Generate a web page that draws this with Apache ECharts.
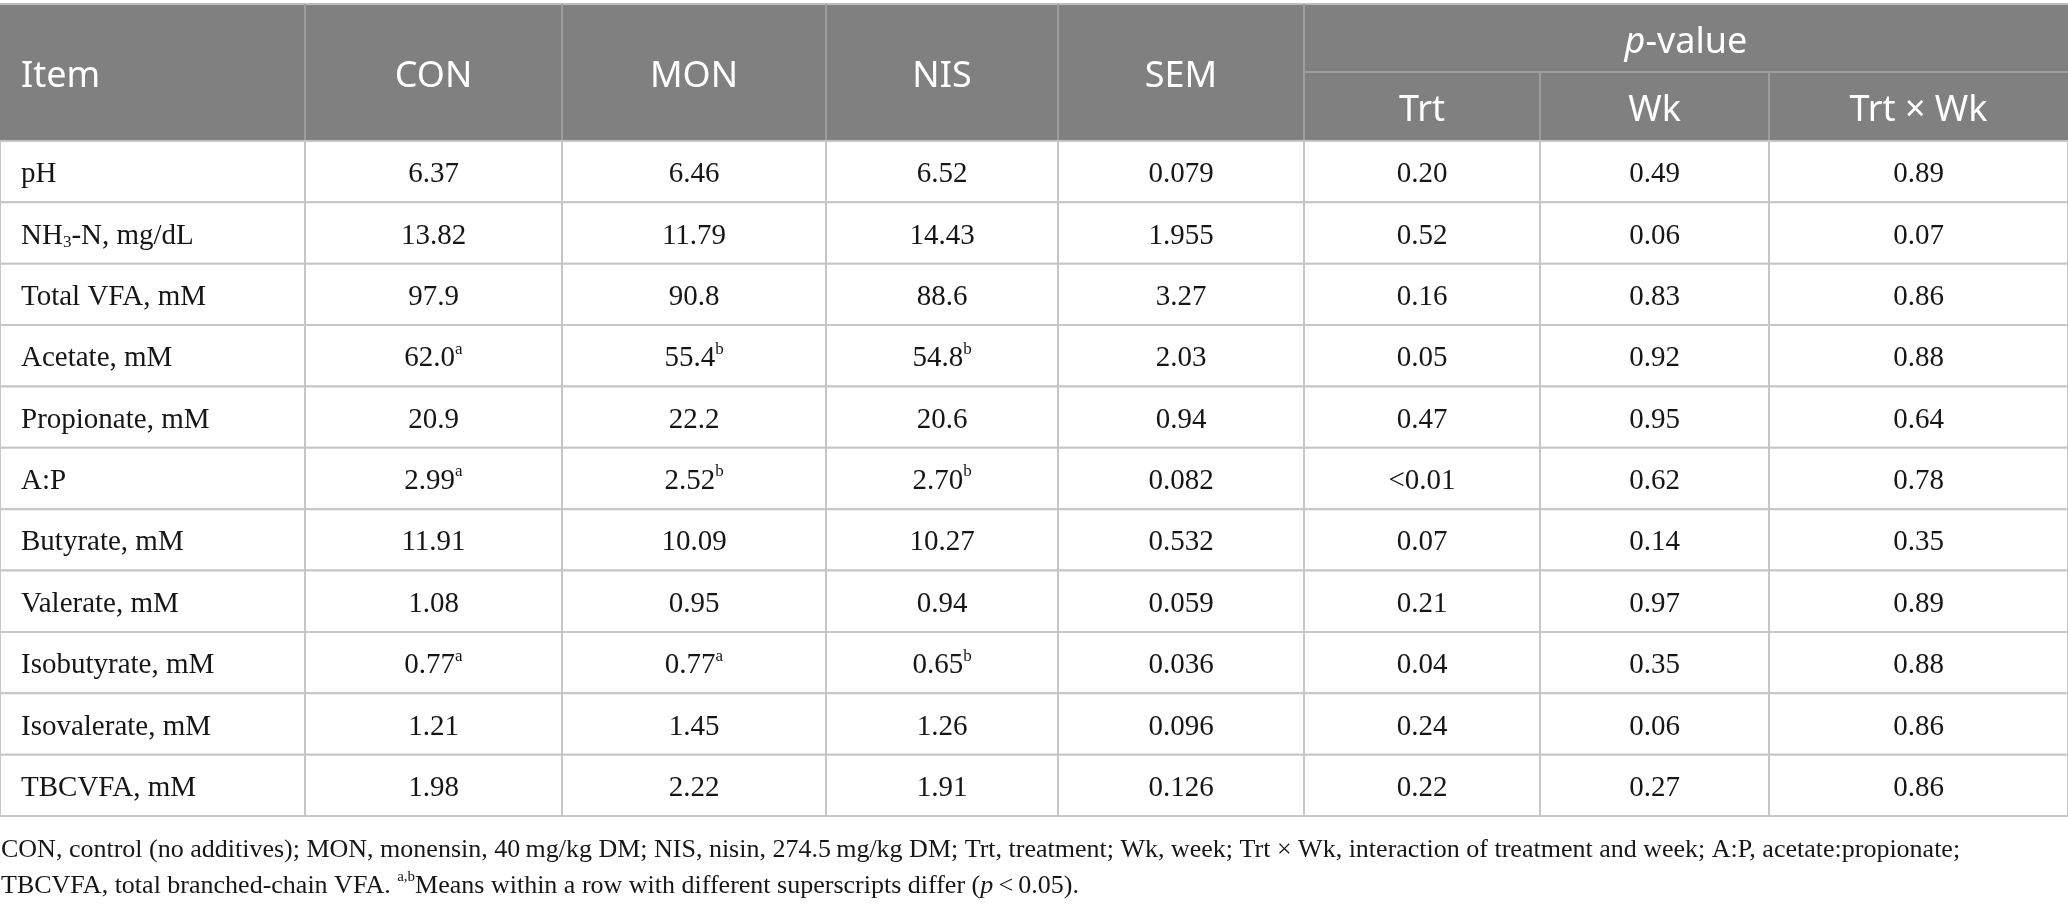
<!DOCTYPE html>
<html>
<head>
    <meta charset="utf-8">
    <title>Rumen fermentation table</title>
    <script src="https://cdn.jsdelivr.net/npm/echarts@6/dist/echarts.min.js"></script>
    <style>
        html, body { margin: 0; padding: 0; background: #fff; }
        #main { width: 2068px; height: 906px; }
    </style>
</head>
<body>
    <div id="main"></div>

    <script>
    // table content
    const columns = ['Item', 'CON', 'MON', 'NIS', 'SEM', 'Trt', 'Wk', 'Trt × Wk'];
    const items = ['pH', 'NH{sub|3}-N, mg/dL', 'Total VFA, mM', 'Acetate, mM', 'Propionate, mM', 'A:P',
        'Butyrate, mM', 'Valerate, mM', 'Isobutyrate, mM', 'Isovalerate, mM', 'TBCVFA, mM'];
    const con    = ['6.37', '13.82', '97.9', '62.0', '20.9', '2.99', '11.91', '1.08', '0.77', '1.21', '1.98'];
    const conSup = ['', '', '', 'a', '', 'a', '', '', 'a', '', ''];
    const mon    = ['6.46', '11.79', '90.8', '55.4', '22.2', '2.52', '10.09', '0.95', '0.77', '1.45', '2.22'];
    const monSup = ['', '', '', 'b', '', 'b', '', '', 'a', '', ''];
    const nis    = ['6.52', '14.43', '88.6', '54.8', '20.6', '2.70', '10.27', '0.94', '0.65', '1.26', '1.91'];
    const nisSup = ['', '', '', 'b', '', 'b', '', '', 'b', '', ''];
    const sem    = ['0.079', '1.955', '3.27', '2.03', '0.94', '0.082', '0.532', '0.059', '0.036', '0.096', '0.126'];
    const pTrt   = ['0.20', '0.52', '0.16', '0.05', '0.47', '<0.01', '0.07', '0.21', '0.04', '0.24', '0.22'];
    const pWk    = ['0.49', '0.06', '0.83', '0.92', '0.95', '0.62', '0.14', '0.97', '0.35', '0.06', '0.27'];
    const pInt   = ['0.89', '0.07', '0.86', '0.88', '0.64', '0.78', '0.35', '0.89', '0.88', '0.86', '0.86'];
    const footLines = [
        'CON, control (no additives); MON, monensin, 40\u2009mg/kg DM; NIS, nisin, 274.5\u2009mg/kg DM; Trt, treatment; Wk, week; Trt × Wk, interaction of treatment and week; A:P, acetate:propionate;',
        'TBCVFA, total branched-chain VFA. {sup|a,b}Means within a row with different superscripts differ ({i|p}\u2009<\u20090.05).'
    ];

    // layout
    const colEdges = [0, 305, 562, 826, 1058, 1304, 1540, 1769, 2068];
    const tableTop = 4, headMid = 72, headBottom = 141, tableBottom = 816;
    const headGrey = '#808080', headLine = '#9d9d9d', bodyLine = '#c6c6c6', ink = '#161616';
    const serif = '"Liberation Serif", "Times New Roman", serif';
    const sans = '"Noto Sans", "Open Sans", sans-serif';

    function cellText(c, r) {
        const sup = (v, s) => s ? v + '{sup|' + s + '}' : v;
        switch (c) {
            case 0: return items[r];
            case 1: return sup(con[r], conSup[r]);
            case 2: return sup(mon[r], monSup[r]);
            case 3: return sup(nis[r], nisSup[r]);
            case 4: return sem[r];
            case 5: return pTrt[r];
            case 6: return pWk[r];
            default: return pInt[r];
        }
    }

    const cells = [];
    for (let r = 0; r < items.length; r++) {
        for (let c = 0; c < columns.length; c++) cells.push([c, r]);
    }

    const richBody = {
        sup: { fontSize: 17, fontFamily: serif, color: ink, verticalAlign: 'top', lineHeight: 36 },
        sub: { fontSize: 17, fontFamily: serif, color: ink, verticalAlign: 'bottom', lineHeight: 30 }
    };

    // header graphics
    const header = [];
    header.push({ type: 'rect', shape: { x: 0, y: tableTop, width: 2068, height: headBottom - tableTop },
        style: { fill: headGrey }, silent: true });
    header.push({ type: 'line', shape: { x1: 0, y1: tableTop, x2: 2068, y2: tableTop },
        style: { stroke: '#bdbdbd', lineWidth: 2 } });
    for (let c = 1; c < columns.length; c++) {
        const inP = c >= 6;
        header.push({ type: 'line', shape: { x1: colEdges[c], y1: inP ? headMid : tableTop, x2: colEdges[c], y2: headBottom },
            style: { stroke: headLine, lineWidth: 2 } });
    }
    header.push({ type: 'line', shape: { x1: colEdges[5], y1: headMid, x2: 2068, y2: headMid },
        style: { stroke: headLine, lineWidth: 2 } });
    columns.forEach(function (name, c) {
        const lower = c >= 5;
        header.push({
            type: 'text',
            x: c === 0 ? 21 : (colEdges[c] + colEdges[c + 1]) / 2,
            y: lower ? (headMid + headBottom) / 2 + 4 : (tableTop + headBottom) / 2 + 4,
            style: { text: name, fill: '#fff', font: '36px ' + sans,
                align: c === 0 ? 'left' : 'center', verticalAlign: 'middle' }
        });
    });
    header.push({
        type: 'text',
        x: (colEdges[5] + colEdges[8]) / 2,
        y: (tableTop + headMid) / 2 + 5,
        style: { text: '{i|p}-value', fill: '#fff', font: '36px ' + sans, align: 'center', verticalAlign: 'middle',
            rich: { i: { fontStyle: 'italic', fontSize: 36, fontFamily: sans, color: '#fff' } } }
    });

    // footnote
    footLines.forEach(function (line, i) {
        header.push({
            type: 'text', x: 1, y: 850 + i * 36,
            style: {
                text: line, fill: ink, font: '26px ' + serif, align: 'left', verticalAlign: 'middle',
                rich: {
                    sup: { fontSize: 15, fontFamily: serif, color: ink, verticalAlign: 'top', lineHeight: 32 },
                    i: { fontStyle: 'italic', fontSize: 26, fontFamily: serif, color: ink }
                }
            }
        });
    });

    const option = {
        animation: false,
        grid: { left: 0, top: headBottom, width: 2068, height: tableBottom - headBottom },
        xAxis: { type: 'value', min: 0, max: 2068, show: false },
        yAxis: { type: 'category', data: items, inverse: true, show: false },
        graphic: header,
        series: [{
            type: 'custom',
            data: cells,
            renderItem: function (params, api) {
                const c = api.value(0), r = api.value(1);
                const a = api.coord([colEdges[c], r]);
                const b = api.coord([colEdges[c + 1], r]);
                const h = api.size([0, 1])[1];
                return {
                    type: 'group',
                    children: [{
                        type: 'rect',
                        shape: { x: a[0], y: a[1] - h / 2, width: b[0] - a[0], height: h },
                        style: { fill: '#fff', stroke: bodyLine, lineWidth: 2 }
                    }, {
                        type: 'text',
                        x: c === 0 ? a[0] + 21 : (a[0] + b[0]) / 2,
                        y: a[1] + 3,
                        style: {
                            text: cellText(c, r), fill: ink, font: '29px ' + serif,
                            align: c === 0 ? 'left' : 'center', verticalAlign: 'middle',
                            rich: richBody
                        }
                    }]
                };
            }
        }]
    };

    window.onload = function () {
        const chart = echarts.init(document.getElementById('main'));
        chart.setOption(option);
    };
    </script>
</body>
</html>
